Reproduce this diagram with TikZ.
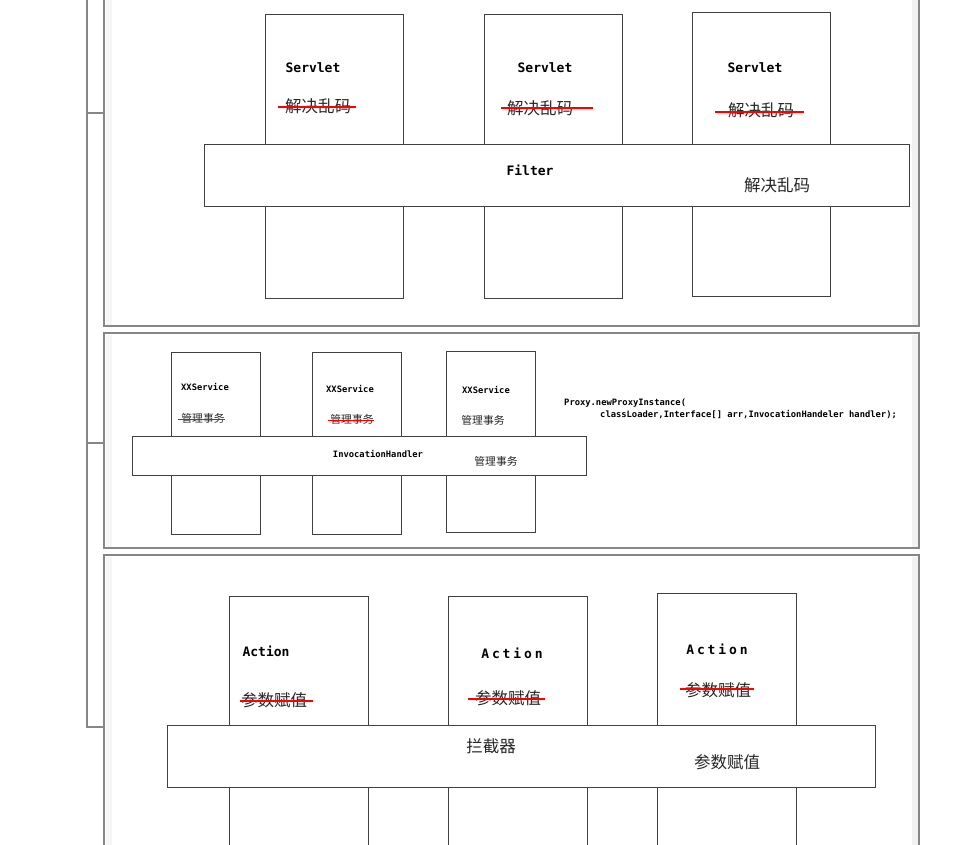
\documentclass[tikz,border=0pt]{standalone}
\usepackage{fontspec}
\newfontfamily\cjk{Noto Sans CJK SC}
\newfontfamily\codefont{DejaVu Sans Mono}
\newfontfamily\widecode[LetterSpace=22]{DejaVu Sans Mono}

\begin{document}
\begin{tikzpicture}[x=1pt,y=-1pt,
  panel/.style={draw=gray!95,line width=1.6pt,fill=white},
  box/.style={draw=black!75,line width=1pt,fill=white,inner sep=0pt,outer sep=0pt},
  big lbl/.style={font=\codefont\bfseries\fontsize{13}{15}\selectfont,inner sep=0pt},
  wide lbl/.style={font=\widecode\bfseries\fontsize{13}{15}\selectfont,inner sep=0pt},
  small lbl/.style={font=\codefont\bfseries\fontsize{8.8}{12}\selectfont,inner sep=0pt},
  zh/.style={font=\cjk\fontsize{16.5}{18}\selectfont,text=black!85,inner sep=0pt},
  small zh/.style={font=\cjk\fontsize{10.8}{12}\selectfont,text=black!85,inner sep=0pt},
  strike/.style={draw=red,line width=1.3pt}]

  \useasboundingbox (0,0) rectangle (980,845);
  \clip (0,0) rectangle (980,845);

  % panels and the bracket on the left
  \draw[panel] (104,-10) rectangle (919,326);
  \draw[panel] (104,333) rectangle (919,548);
  \draw[panel] (104,555) rectangle (919,870);
  \fill[gray!7] (105.5,-10) rectangle (112,325);
  \fill[gray!7] (105.5,334.5) rectangle (112,547);
  \fill[gray!7] (105.5,556.5) rectangle (112,870);
  \fill[gray!10] (912,-10) rectangle (918,325);
  \fill[gray!10] (912,334.5) rectangle (918,547);
  \fill[gray!10] (912,556.5) rectangle (918,870);
  \draw[gray!95,line width=1.6pt] (87,-10) -- (87,727) -- (104,727);
  \draw[gray!95,line width=1.6pt] (87,113) -- (104,113);
  \draw[gray!95,line width=1.6pt] (87,443) -- (104,443);

  % servlets and filter
  \node[box,minimum width=138,minimum height=283] (s1) at (334,156.5) {};
  \node[box,minimum width=138,minimum height=283] (s2) at (553,156.5) {};
  \node[box,minimum width=138,minimum height=283] (s3) at (761,154.5) {};
  \node[box,minimum width=705,minimum height=62] (filter) at (556.5,176) {};

  \node[big lbl] (s1t) at (313,68) {Servlet};
  \node[big lbl] (s2t) at (545,68) {Servlet};
  \node[big lbl] (s3t) at (755,68) {Servlet};
  \node[zh] (s1z) at (318,106) {解决乱码};
  \node[zh] (s2z) at (540,108) {解决乱码};
  \node[zh] (s3z) at (761,110) {解决乱码};
  \draw[strike] ([xshift=-7pt,yshift=-1pt]s1z.west) -- ([xshift=5pt,yshift=-1pt]s1z.east);
  \draw[strike] ([xshift=-6pt]s2z.west) -- ([xshift=20pt]s2z.east);
  \draw[strike] ([xshift=-13pt,yshift=-2pt]s3z.west) -- ([xshift=10pt,yshift=-2pt]s3z.east);
  \node[big lbl] (filtert) at (530,170) {Filter};
  \node[zh] (filterz) at (777,185) {解决乱码};

  % services and invocation handler
  \node[box,minimum width=89,minimum height=182] (v1) at (215.5,443) {};
  \node[box,minimum width=89,minimum height=182] (v2) at (356.5,443) {};
  \node[box,minimum width=89,minimum height=181] (v3) at (490.5,441.5) {};
  \node[box,minimum width=454,minimum height=39] (handler) at (359,455.5) {};

  \node[small lbl] (v1t) at (205,387) {XXService};
  \node[small lbl] (v2t) at (350,389) {XXService};
  \node[small lbl] (v3t) at (486,390) {XXService};
  \node[small zh] (v1z) at (203,418) {管理事务};
  \node[small zh] (v2z) at (352,419) {管理事务};
  \node[small zh] (v3z) at (483,420) {管理事务};
  \draw[strike,line width=1pt] ([xshift=-3pt,yshift=-1pt]v1z.west) -- ([xshift=0pt,yshift=-1pt]v1z.east);
  \draw[strike,line width=1pt] ([xshift=-2pt,yshift=-1pt]v2z.west) -- ([xshift=0pt,yshift=-1pt]v2z.east);
  \node[small lbl] (handlert) at (378,454) {InvocationHandler};
  \node[small zh] (handlerz) at (496,461) {管理事务};
  \node[small lbl,anchor=west] (proxy1) at (564,403) {Proxy.newProxyInstance(};
  \node[small lbl,anchor=west] (proxy2) at (600,415) {classLoader,Interface[] arr,InvocationHandeler handler);};

  % actions and interceptor
  \node[box,minimum width=139,minimum height=304] (a1) at (298.5,748) {};
  \node[box,minimum width=139,minimum height=304] (a2) at (517.5,748) {};
  \node[box,minimum width=139,minimum height=307] (a3) at (726.5,746.5) {};
  \node[box,minimum width=708,minimum height=62] (interceptor) at (521,756) {};

  \node[big lbl] (a1t) at (266,651) {Action};
  \node[wide lbl] (a2t) at (512,653) {Action};
  \node[wide lbl] (a3t) at (717,649) {Action};
  \node[zh] (a1z) at (274,700) {参数赋值};
  \node[zh] (a2z) at (508,698) {参数赋值};
  \node[zh] (a3z) at (718,690) {参数赋值};
  \draw[strike] ([xshift=-1pt,yshift=-1pt]a1z.west) -- ([xshift=6pt,yshift=-1pt]a1z.east);
  \draw[strike] ([xshift=-7pt,yshift=-1pt]a2z.west) -- ([xshift=4pt,yshift=-1pt]a2z.east);
  \draw[strike] ([xshift=-5pt,yshift=1pt]a3z.west) -- ([xshift=3pt,yshift=1pt]a3z.east);
  \node[zh] (interceptort) at (491,746) {拦截器};
  \node[zh] (interceptorz) at (727,762) {参数赋值};
\end{tikzpicture}
\end{document}
